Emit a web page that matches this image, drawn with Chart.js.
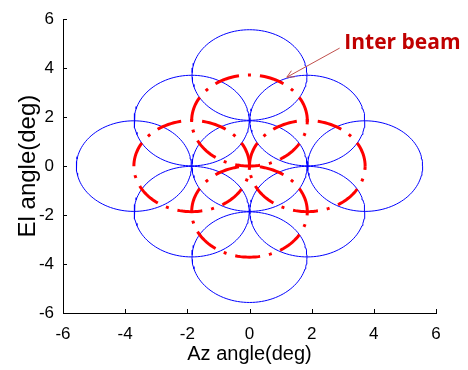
<!DOCTYPE html>
<html lang="en">
<head>
<meta charset="UTF-8">
<title>Beam layout</title>
<script src="https://cdn.jsdelivr.net/npm/chart.js"></script>
<style>
  html, body { margin: 0; padding: 0; background: #fff; }
</style>
</head>
<body>
<canvas id="beamChart" width="468" height="370"></canvas>
<script>
// beam centres, az / el in deg
const beamAz = [0, 0, 0, 3.72, -3.72, 1.86, 1.86, -1.86, -1.86];
const beamEl = [0, 3.72, -3.72, 0, 0, 1.86, -1.86, 1.86, -1.86];
const beamRadius = 1.85;
// inter beam centres
const interAz = [0, 0, 1.86, -1.86];
const interEl = [1.86, -1.86, 0, 0];
const interRadius = 1.86;
const xTicks = [-6, -4, -2, 0, 2, 4, 6];
const yTicks = [-6, -4, -2, 0, 2, 4, 6];
const noteText = 'Inter beam';

// outline of a beam from its centre and radius
function beamOutline(cx, cy, r) {
    const pts = [];
    for (let i = 0; i <= 120; i++) {
        const t = 2 * Math.PI * i / 120;
        pts.push({ x: cx + r * Math.cos(t), y: cy + r * Math.sin(t) });
    }
    return pts;
}

const datasets = [];
interAz.forEach((az, i) => {
    datasets.push({
        data: beamOutline(az, interEl[i], interRadius),
        showLine: true, pointRadius: 0, borderColor: '#ff0000', borderWidth: 3,
        borderDash: [25, 9, 3, 9], borderCapStyle: 'butt', order: 0
    });
});
beamAz.forEach((az, i) => {
    datasets.push({
        data: beamOutline(az, beamEl[i], beamRadius),
        showLine: true, pointRadius: 0, borderColor: '#0000ff', borderWidth: 1, order: 1
    });
});

// matlab style ticks pointing into the plot + the arrow note
const extras = {
    id: 'extras',
    afterDraw(chart) {
        const { ctx, chartArea: a, scales: { x, y } } = chart;
        ctx.save();
        ctx.strokeStyle = '#000';
        ctx.lineWidth = 1;
        ctx.beginPath();
        xTicks.forEach(v => {
            const px = Math.round(x.getPixelForValue(v)) + 0.5;
            ctx.moveTo(px, a.bottom); ctx.lineTo(px, a.bottom - 4);
        });
        yTicks.forEach(v => {
            const py = Math.round(y.getPixelForValue(v)) + 0.5;
            ctx.moveTo(a.left, py); ctx.lineTo(a.left + 4, py);
        });
        ctx.stroke();

        // arrow
        const tx = x.getPixelForValue(1.2), ty = y.getPixelForValue(3.63);
        const sx = x.getPixelForValue(2.9), sy = y.getPixelForValue(4.82);
        const ang = Math.atan2(ty - sy, tx - sx);
        ctx.strokeStyle = '#c0504d';
        ctx.beginPath();
        ctx.moveTo(sx, sy); ctx.lineTo(tx, ty);
        ctx.moveTo(tx - 8 * Math.cos(ang - 0.45), ty - 8 * Math.sin(ang - 0.45));
        ctx.lineTo(tx, ty);
        ctx.lineTo(tx - 8 * Math.cos(ang + 0.45), ty - 8 * Math.sin(ang + 0.45));
        ctx.stroke();

        ctx.fillStyle = '#c00000';
        ctx.font = 'bold 21px "Open Sans", sans-serif';
        ctx.textBaseline = 'alphabetic';
        ctx.fillText(noteText, x.getPixelForValue(3.05), y.getPixelForValue(4.78));
        ctx.restore();
    }
};

const tickFont = { family: '"Liberation Sans", Arial, sans-serif', size: 17 };

new Chart(document.getElementById('beamChart'), {
    type: 'scatter',
    data: { datasets },
    options: {
        responsive: false,
        animation: false,
        layout: { padding: { left: 0, top: 12, right: 32, bottom: 0 } },
        plugins: { legend: { display: false }, tooltip: { enabled: false } },
        scales: {
            x: {
                type: 'linear', min: -6, max: 6,
                afterBuildTicks: s => { s.ticks = xTicks.map(v => ({ value: v })); },
                afterFit: s => { s.height = 57; },
                grid: { display: false, drawTicks: false },
                border: { display: true, color: '#000', width: 1 },
                ticks: { color: '#000', font: tickFont, padding: 11, maxRotation: 0 },
                title: { display: true, text: 'Az angle(deg)', color: '#000', padding: 4,
                    font: { family: '"Liberation Sans", Arial, sans-serif', size: 20 } }
            },
            y: {
                type: 'linear', min: -6, max: 6,
                afterBuildTicks: s => { s.ticks = yTicks.map(v => ({ value: v })); },
                afterFit: s => { s.width = 63; },
                grid: { display: false, drawTicks: false },
                border: { display: true, color: '#000', width: 1 },
                ticks: { color: '#000', font: tickFont, padding: 9 },
                title: { display: true, text: 'El angle(deg)', color: '#000', padding: 14,
                    font: { family: '"Liberation Sans", Arial, sans-serif', size: 24 } }
            }
        }
    },
    plugins: [extras]
});
</script>
</body>
</html>
